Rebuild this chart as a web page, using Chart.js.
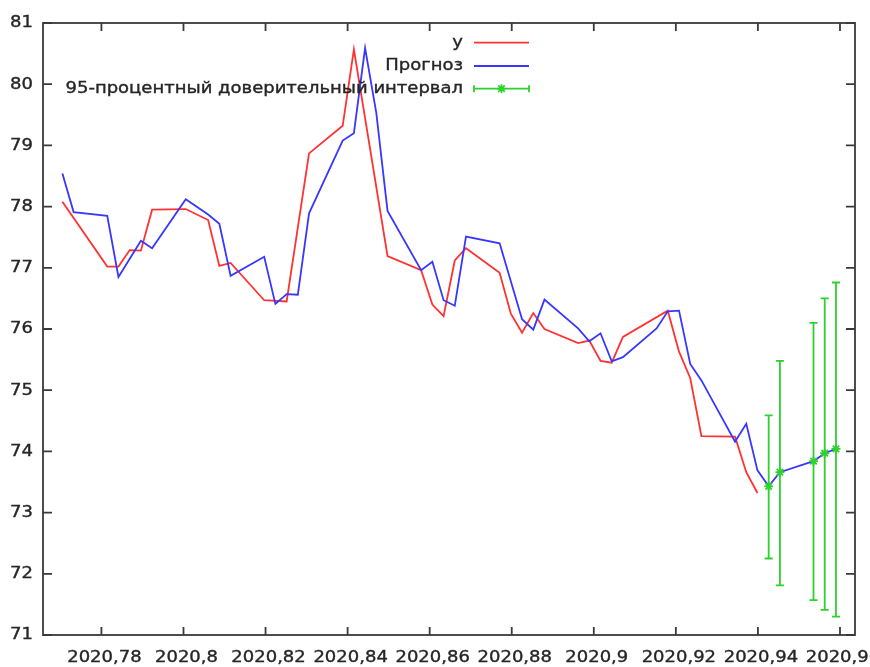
<!DOCTYPE html>
<html>
<head>
<meta charset="utf-8">
<script src="https://cdn.jsdelivr.net/npm/chart.js@4"></script>
<style>
  html, body { margin: 0; padding: 0; background: #fff; overflow: hidden; }
  #wrap { width: 900px; height: 667px; }
</style>
</head>
<body>
<div id="wrap"><canvas id="chart"></canvas></div>
<script>
// Actual values (y), decimal year
const yDates = [2020.77049, 2020.78142, 2020.78415, 2020.78689, 2020.78962, 2020.79235, 2020.80055, 2020.80601,
  2020.80874, 2020.81148, 2020.81967, 2020.82514, 2020.83060, 2020.83880, 2020.84153, 2020.84973, 2020.85792,
  2020.86066, 2020.86339, 2020.86612, 2020.86885, 2020.87705, 2020.87978, 2020.88251, 2020.88525, 2020.88798,
  2020.89617, 2020.89891, 2020.90164, 2020.90437, 2020.90710, 2020.91803, 2020.92077, 2020.92350, 2020.92623,
  2020.93443, 2020.93716, 2020.93989];
const yValues = [78.08, 77.02, 77.02, 77.29, 77.28, 77.95, 77.96, 77.78, 77.03, 77.08, 76.47, 76.45, 78.87, 79.32,
  80.57, 77.19, 76.96, 76.40, 76.21, 77.12, 77.32, 76.92, 76.25, 75.94, 76.26, 76.00, 75.77, 75.81, 75.48, 75.45,
  75.87, 76.30, 75.63, 75.20, 74.25, 74.24, 73.66, 73.32];

// Forecast (Прогноз)
const fcDates = [2020.77049, 2020.77322, 2020.78142, 2020.78415, 2020.78962, 2020.79235, 2020.80055, 2020.80601,
  2020.80874, 2020.81148, 2020.81967, 2020.82240, 2020.82514, 2020.82787, 2020.83060, 2020.83880, 2020.84153,
  2020.84426, 2020.84699, 2020.84973, 2020.85792, 2020.86066, 2020.86339, 2020.86612, 2020.86885, 2020.87705,
  2020.88251, 2020.88525, 2020.88798, 2020.89617, 2020.89891, 2020.90164, 2020.90437, 2020.90710, 2020.91530,
  2020.91803, 2020.92077, 2020.92350, 2020.92623, 2020.93443, 2020.93716, 2020.93989, 2020.94262, 2020.94536,
  2020.95355, 2020.95628, 2020.95902];
const fcValues = [78.54, 77.91, 77.85, 76.85, 77.44, 77.32, 78.12, 77.87, 77.72, 76.87, 77.18, 76.41, 76.57, 76.56,
  77.89, 79.08, 79.20, 80.59, 79.53, 77.93, 76.96, 77.10, 76.47, 76.38, 77.51, 77.40, 76.16, 75.99, 76.48, 76.01,
  75.80, 75.93, 75.47, 75.54, 76.01, 76.29, 76.30, 75.43, 75.16, 74.16, 74.45, 73.69, 73.43, 73.66, 73.84, 73.97,
  74.04];

// 95% confidence interval
const ciDates = [2020.94262, 2020.94536, 2020.95355, 2020.95628, 2020.95902];
const ciMid = [73.43, 73.66, 73.84, 73.97, 74.04];
const ciLow = [72.25, 71.81, 71.57, 71.41, 71.30];
const ciHigh = [74.59, 75.48, 76.10, 76.50, 76.76];

const xTicks = [2020.78, 2020.80, 2020.82, 2020.84, 2020.86, 2020.88, 2020.90, 2020.92, 2020.94, 2020.96];
const yTicks = [71, 72, 73, 74, 75, 76, 77, 78, 79, 80, 81];

const seriesLabels = ['y', 'Прогноз', '95-процентный доверительный интервал'];

const RED = 'rgb(255,50,50)';
const BLUE = 'rgb(55,55,255)';
const GREEN = 'rgb(45,210,45)';
const INK = '#262626';
const FONT = '15px "DejaVu Sans"';
const SX = 1.2; // text is a bit wider than tall in the reference

function pairs(xs, ys) {
  return xs.map((x, i) => ({ x: x, y: ys[i] }));
}

function fmtX(v) {
  return v.toFixed(2).replace(/0+$/, '').replace(/\.$/, '').replace('.', ',');
}

function wideText(ctx, str, x, y, align) {
  ctx.save();
  ctx.translate(x, y);
  ctx.scale(SX, 1);
  ctx.textAlign = align;
  ctx.textBaseline = 'middle';
  ctx.fillText(str, 0, 0);
  ctx.strokeStyle = ctx.fillStyle;
  ctx.lineWidth = 0.35;
  ctx.strokeText(str, 0, 0);
  ctx.restore();
}

function star(ctx, x, y, r) {
  const d = r * 0.72;
  ctx.beginPath();
  ctx.moveTo(x - r, y); ctx.lineTo(x + r, y);
  ctx.moveTo(x, y - r); ctx.lineTo(x, y + r);
  ctx.moveTo(x - d, y - d); ctx.lineTo(x + d, y + d);
  ctx.moveTo(x - d, y + d); ctx.lineTo(x + d, y - d);
  ctx.stroke();
}

const gnuplotLook = {
  id: 'gnuplotLook',
  afterDatasetsDraw(chart) {
    const { ctx, scales: { x, y } } = chart;
    ctx.save();
    ctx.strokeStyle = GREEN;
    ctx.lineWidth = 1.8;
    ciDates.forEach((d, i) => {
      const px = x.getPixelForValue(d);
      const lo = y.getPixelForValue(ciLow[i]);
      const hi = y.getPixelForValue(ciHigh[i]);
      ctx.beginPath();
      ctx.moveTo(px, lo); ctx.lineTo(px, hi);
      ctx.moveTo(px - 4, lo); ctx.lineTo(px + 4, lo);
      ctx.moveTo(px - 4, hi); ctx.lineTo(px + 4, hi);
      ctx.stroke();
      star(ctx, px, y.getPixelForValue(ciMid[i]), 4.5);
    });
    ctx.restore();
  },
  afterDraw(chart) {
    const { ctx, chartArea: a, scales: { x, y } } = chart;
    ctx.save();
    // frame + inward mirrored ticks
    ctx.strokeStyle = '#3a3a3a';
    ctx.lineWidth = 1.8;
    ctx.strokeRect(a.left, a.top, a.right - a.left, a.bottom - a.top);
    ctx.beginPath();
    xTicks.forEach(v => {
      const px = x.getPixelForValue(v);
      ctx.moveTo(px, a.bottom); ctx.lineTo(px, a.bottom - 8);
      ctx.moveTo(px, a.top); ctx.lineTo(px, a.top + 8);
    });
    yTicks.forEach(v => {
      const py = y.getPixelForValue(v);
      ctx.moveTo(a.left, py); ctx.lineTo(a.left + 9, py);
      ctx.moveTo(a.right, py); ctx.lineTo(a.right - 9, py);
    });
    ctx.stroke();

    // tick labels
    ctx.fillStyle = INK;
    ctx.font = FONT;
    xTicks.forEach(v => wideText(ctx, fmtX(v), x.getPixelForValue(v) + 3, a.bottom + 23, 'center'));
    yTicks.forEach(v => wideText(ctx, String(v), a.left - 10, y.getPixelForValue(v) + 0.5, 'right'));

    // legend, top right inside the plot
    const textRight = 463, s0 = 474, s1 = 529, rows = [42.7, 66, 88.7];
    const colors = [RED, BLUE, GREEN];
    seriesLabels.forEach((label, i) => {
      ctx.fillStyle = INK;
      wideText(ctx, label, textRight, rows[i], 'right');
      ctx.strokeStyle = colors[i];
      ctx.lineWidth = 1.8;
      ctx.beginPath();
      ctx.moveTo(s0, rows[i]); ctx.lineTo(s1, rows[i]);
      if (i === 2) {
        ctx.moveTo(s0, rows[i] - 3.5); ctx.lineTo(s0, rows[i] + 3.5);
        ctx.moveTo(s1, rows[i] - 3.5); ctx.lineTo(s1, rows[i] + 3.5);
      }
      ctx.stroke();
      if (i === 2) star(ctx, (s0 + s1) / 2, rows[i], 4.5);
    });
    ctx.restore();
  }
};

new Chart(document.getElementById('chart'), {
  type: 'line',
  data: {
    datasets: [
      {
        label: seriesLabels[0],
        data: pairs(yDates, yValues),
        borderColor: RED,
        borderWidth: 1.8,
        pointRadius: 0,
        tension: 0,
        order: 2
      },
      {
        label: seriesLabels[1],
        data: pairs(fcDates, fcValues),
        borderColor: BLUE,
        borderWidth: 1.8,
        pointRadius: 0,
        tension: 0,
        order: 1
      }
    ]
  },
  options: {
    responsive: true,
    maintainAspectRatio: false,
    animation: false,
    devicePixelRatio: 1,
    layout: { padding: { top: 23, right: 45, left: 0, bottom: 0 } },
    plugins: {
      legend: { display: false },
      tooltip: { enabled: false }
    },
    scales: {
      x: {
        type: 'linear',
        min: 2020.76576,
        max: 2020.96366,
        afterBuildTicks: s => { s.ticks = xTicks.map(v => ({ value: v })); },
        afterFit: s => { s.height = 32; },
        ticks: { display: false },
        grid: { display: false, drawTicks: false },
        border: { display: false }
      },
      y: {
        min: 71,
        max: 81,
        afterBuildTicks: s => { s.ticks = yTicks.map(v => ({ value: v })); },
        afterFit: s => { s.width = 43; },
        ticks: { display: false },
        grid: { display: false, drawTicks: false },
        border: { display: false }
      }
    }
  },
  plugins: [gnuplotLook]
});
</script>
</body>
</html>
